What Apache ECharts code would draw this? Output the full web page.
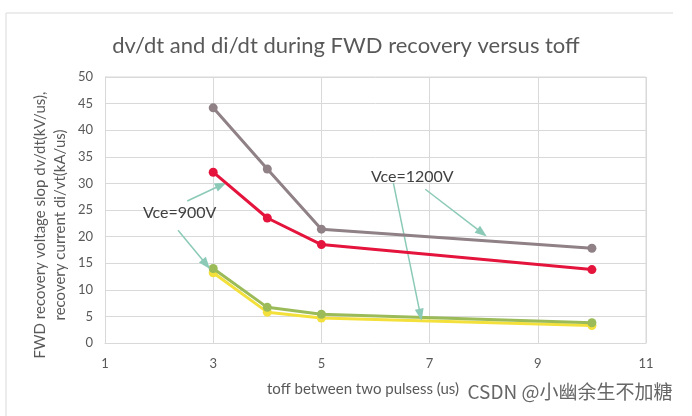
<!DOCTYPE html>
<html><head><meta charset="utf-8">
<script src="https://cdn.jsdelivr.net/npm/echarts@6/dist/echarts.min.js"></script>
<style>html,body{margin:0;padding:0;background:#fff}#c{width:692px;height:416px}</style>
</head><body><div id="c"></div>
<script>
const toff = [3, 4, 5, 10];
const grayVals = [44.2, 32.7, 21.4, 17.8];
const redVals = [32.1, 23.5, 18.5, 13.8];
const greenVals = [14.0, 6.7, 5.4, 3.8];
const yellowVals = [13.2, 5.8, 4.7, 3.3];
const xTicks = [1, 3, 5, 7, 9, 11];
const yTicks = [0, 5, 10, 15, 20, 25, 30, 35, 40, 45, 50];
const xName = 'toff between two pulsess (us)';
const yName = 'FWD recovery voltage slop dv/dt(kV/us),\nrecovery current di/vt(kA/us)';
// annotation positions in data space
const label900 = [2.38, 24.4];
const label1200 = [6.68, 31.2];
const arrows900 = [[[2.52, 26.7], [3.15, 29.7]], [[2.35, 21.2], [2.87, 14.8]]];
const arrows1200 = [[[6.33, 30.1], [6.83, 5.3]], [[6.92, 28.9], [7.97, 20.7]]];

const pair = (xs, ys) => xs.map((x, i) => [x, ys[i]]);
const font = 'Lato, "Open Sans", sans-serif';
const txt = '#595959';

function mk(name, vals, color, z) {
  return {
    name, type: 'line', data: pair(toff, vals), z,
    symbol: 'circle', symbolSize: 9,
    lineStyle: { color, width: 3 },
    itemStyle: { color },
    emphasis: { disabled: true }
  };
}
const arrowLines = arrows900.concat(arrows1200).map(a => [
  { coord: a[0], symbol: 'none' },
  { coord: a[1], symbol: 'triangle', symbolSize: [9, 12] }
]);

const chart = echarts.init(document.getElementById('c'));
chart.setOption({
  animation: false,
  backgroundColor: '#fff',
  title: {
    text: 'dv/dt and di/dt during FWD recovery versus toff',
    left: 'center', top: 30,
    textStyle: { fontFamily: font, fontSize: 22, fontWeight: 'normal', color: txt }
  },
  grid: { left: 105, right: 46, top: 77, bottom: 73 },
  xAxis: {
    type: 'value', min: 1, max: 11, interval: 2,
    axisLine: { show: true, lineStyle: { color: '#d9d9d9' } },
    axisTick: { show: false },
    axisLabel: { fontFamily: font, fontSize: 13, color: txt, margin: 14,
      formatter: v => xTicks.includes(v) ? String(v) : '' },
    splitLine: { show: true, lineStyle: { color: '#d9d9d9' } }
  },
  yAxis: {
    type: 'value', min: 0, max: 50, interval: 5,
    axisLine: { show: true, lineStyle: { color: '#d9d9d9' } },
    axisTick: { show: false },
    axisLabel: { fontFamily: font, fontSize: 13, color: txt, margin: 12,
      formatter: v => yTicks.includes(v) ? String(v) : '' },
    splitLine: { show: true, lineStyle: { color: '#d9d9d9' } }
  },
  series: [
    mk('yellow', yellowVals, '#f3e03b', 3),
    mk('green', greenVals, '#9bbb59', 4),
    mk('red', redVals, '#e4143c', 5),
    mk('gray', grayVals, '#8f8185', 6),
    {
      type: 'scatter', data: [], z: 8,
      markLine: {
        silent: true, animation: false,
        lineStyle: { color: '#8ccab8', width: 1.5, type: 'solid' },
        itemStyle: { color: '#8ccab8' },
        label: { show: false },
        data: arrowLines
      },
      markPoint: {
        silent: true, symbol: 'rect', symbolSize: 1,
        itemStyle: { color: 'rgba(0,0,0,0)' },
        label: { show: true, position: 'inside', fontFamily: font, fontSize: 16, color: '#404040',
          formatter: p => p.name },
        data: [
          { name: 'Vce=900V', coord: label900 },
          { name: 'Vce=1200V', coord: label1200 }
        ]
      }
    }
  ],
  graphic: [
    { type: 'line', shape: { x1: 6, y1: 13, x2: 673, y2: 13 }, style: { stroke: '#e6e6e6', lineWidth: 1.5 }, silent: true },
    { type: 'line', shape: { x1: 6, y1: 13, x2: 6, y2: 416 }, style: { stroke: '#e6e6e6', lineWidth: 1.5 }, silent: true },
    { type: 'line', shape: { x1: 646, y1: 77, x2: 646, y2: 343 }, style: { stroke: '#d9d9d9', lineWidth: 1 }, silent: true },
    { type: 'line', shape: { x1: 105, y1: 77, x2: 646, y2: 77 }, style: { stroke: '#d9d9d9', lineWidth: 1 }, silent: true },
    { type: 'text', x: 363, y: 389, silent: true,
      style: { text: xName, fontFamily: font, fontSize: 15, fill: txt, align: 'center', verticalAlign: 'middle' } },
    { type: 'text', x: 50, y: 225, rotation: Math.PI / 2, silent: true,
      style: { text: yName, fontFamily: font, fontSize: 15, lineHeight: 20, fill: txt, align: 'center', verticalAlign: 'middle' } },
    { type: 'text', x: 570, y: 392, silent: true, z: 100,
      style: { text: 'CSDN @小幽余生不加糖', fontFamily: '"Noto Sans CJK SC", sans-serif', fontSize: 19,
        fill: '#666', stroke: '#fff', lineWidth: 2, align: 'center', verticalAlign: 'middle' } }
  ]
});
</script></body></html>
